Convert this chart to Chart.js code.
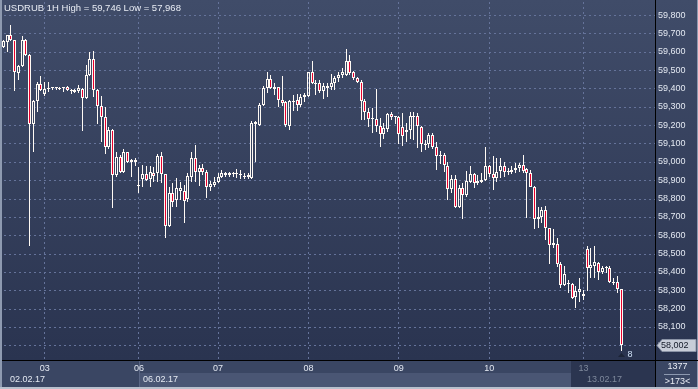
<!DOCTYPE html>
<html><head><meta charset="utf-8">
<script src="https://cdn.jsdelivr.net/npm/chart.js@4.4.1/dist/chart.umd.min.js"></script>
<style>html,body{margin:0;padding:0;background:#2e3a55;overflow:hidden}canvas{display:block}</style>
</head><body>
<canvas id="c" width="698" height="389"></canvas>
<script>
const symbol = 'USDRUB';
const timeframe = '1H';

const openP = [
59624,59655,59691,59664,59482,59522,59664,59582,59206,59331,
59424,59370,59399,59400,59401,59398,59401,59409,59391,59380,
59386,59397,59346,59473,59559,59391,59304,59243,59079,59173,
58928,59028,58943,59052,58997,59010,58874,58906,58932,58906,
58937,58937,59032,58933,58652,58832,58792,58842,58841,58796,
58915,59019,58943,58965,58943,58864,58874,58888,58915,58928,
58928,58933,58932,58928,58919,58919,58910,59217,59201,59310,
59401,59451,59399,59406,59337,59326,59198,59324,59335,59308,
59352,59361,59488,59424,59428,59388,59413,59406,59431,59455,
59473,59473,59549,59488,59455,59437,59333,59271,59232,59232,
59195,59150,59177,59261,59246,59246,59188,59161,59173,59243,
59250,59188,59097,59095,59146,59082,59033,59037,58979,58850,
58905,58752,58856,58819,58891,58932,58886,58901,58901,58977,
58932,58910,58951,58977,58950,58946,58954,58965,58983,58959,
58941,58861,58687,58697,58737,58638,58546,58550,58443,58328,
58334,58334,58261,58292,58280,58523,58420,58434,58450,58401,
58423,58423,58347,58343,58305];
const highP = [
59664,59691,59746,59664,59528,59686,59669,59588,59337,59437,
59468,59437,59437,59405,59405,59408,59409,59413,59397,59397,
59418,59402,59528,59597,59606,59397,59360,59300,59191,59179,
59055,59037,59068,59053,59015,59019,58970,58983,58977,58979,
58970,59041,59053,58933,58864,58883,58913,58891,58874,58937,
59055,59092,58983,58987,58955,58897,58919,58937,58955,58946,
58946,58946,58961,58955,58937,58937,59222,59222,59320,59413,
59488,59473,59431,59409,59469,59331,59337,59364,59370,59370,
59373,59491,59549,59446,59446,59428,59428,59477,59468,59491,
59513,59615,59582,59495,59464,59446,59342,59293,59292,59395,
59237,59210,59268,59273,59250,59250,59264,59210,59270,59273,
59264,59195,59119,59155,59159,59109,59059,59046,59000,58928,
58928,58874,58883,58951,58979,58941,58928,58937,59079,58983,
59032,59022,59019,59000,58965,58977,58995,58992,59037,58965,
58955,58868,58752,58752,58759,58638,58632,58583,58455,58432,
58356,58338,58323,58365,58301,58541,58529,58541,58455,58432,
58432,58432,58365,58378,58305];
const lowP = [
59620,59600,59658,59388,59446,59517,59577,58543,59052,59273,
59386,59359,59382,59394,59394,59391,59382,59386,59370,59377,
59377,59168,59342,59468,59355,59206,59106,59041,59070,58747,
58919,58939,58939,58992,58919,58977,58828,58861,58897,58861,
58891,58891,58883,58583,58646,58755,58752,58792,58668,58782,
58891,58891,58868,58928,58804,58841,58864,58886,58910,58919,
58915,58919,58910,58906,58906,58905,58906,59000,59195,59304,
59375,59397,59364,59300,59306,59191,59171,59278,59278,59300,
59327,59352,59425,59364,59373,59341,59355,59391,59391,59437,
59455,59468,59473,59446,59428,59228,59228,59190,59159,59164,
59082,59124,59164,59228,59206,59095,59086,59109,59124,59119,
59074,59052,59064,59074,59070,58955,58987,58946,58792,58828,
58748,58747,58687,58810,58883,58859,58874,58883,58897,58919,
58846,58891,58913,58919,58928,58933,58941,58943,58941,58695,
58861,58632,58638,58668,58574,58441,58528,58428,58310,58323,
58283,58252,58202,58237,58247,58297,58365,58365,58356,58388,
58392,58341,58328,58283,57968];
const closeP = [
59660,59690,59664,59488,59522,59664,59582,59206,59331,59424,
59391,59399,59401,59401,59400,59400,59403,59391,59384,59391,
59404,59346,59473,59559,59391,59304,59243,59079,59173,58928,
59028,58946,59052,59000,59010,58997,58868,58932,58901,58943,
58923,59032,58933,58652,58832,58779,58859,58856,58788,58923,
59019,58943,58965,58943,58864,58878,58891,58919,58937,58937,
58941,58934,58932,58929,58924,58928,59213,59206,59310,59401,
59451,59401,59406,59337,59322,59201,59329,59333,59308,59353,
59366,59488,59428,59431,59388,59413,59404,59431,59458,59473,
59491,59549,59486,59455,59437,59333,59271,59232,59231,59195,
59150,59183,59261,59246,59245,59150,59142,59173,59250,59250,
59195,59095,59090,59146,59082,59033,59032,58983,58850,58905,
58752,58856,58819,58895,58932,58886,58897,58891,58977,58932,
58910,58943,58977,58946,58943,58955,58965,58983,58951,58937,
58864,58687,58697,58737,58638,58546,58556,58443,58328,58388,
58341,58256,58296,58307,58270,58420,58438,58454,58401,58423,
58422,58343,58339,58305,58002];

const dayTickIdx = [11, 36, 57, 81, 105, 129, 154];
const dayLabels = ['03', '06', '07', '08', '09', '10', '13'];
const weekStartIdx = [0, 36, 154];
const weekLabels = ['02.02.17', '06.02.17', '13.02.17'];
const totalBars = 1377;
const visibleBars = 173;
const shiftBars = 8;
const yMin = 57920, yMax = 59882, yStep = 100;

const FONT = '"Liberation Sans", Arial, sans-serif';
const RED = '#e8002e', WHITE = '#fffaf4', GRID = '#65739a';
const fmt = v => Math.round(v).toLocaleString('en-US');

const idx = openP.map((_, i) => i);
const bodyData = idx.map(i => ({x: i, y: [openP[i], closeP[i]]}));
const upWick = idx.map(i => ({x: i, y: [Math.max(openP[i], closeP[i]), highP[i]]}));
const loWick = idx.map(i => ({x: i, y: [lowP[i], Math.min(openP[i], closeP[i])]}));

const snap = {
  id: 'snap',
  afterDatasetsUpdate(chart) {
    chart.data.datasets.forEach((ds, di) => {
      chart.getDatasetMeta(di).data.forEach(el => {
        el.x = Math.floor(el.x) + 0.5;
        const y = Math.round(el.y), b = Math.round(el.base);
        el.y = y; el.base = b; el.height = b - y;
      });
    });
  }
};

const deco = {
  id: 'deco',
  beforeDraw(chart) {
    const {ctx, chartArea: a, scales: {x}} = chart;
    const W = chart.width, H = chart.height;
    ctx.save();
    ctx.fillStyle = '#8e9ab0'; ctx.fillRect(0, 0, W, H);
    const g = ctx.createLinearGradient(0, 0, 0, a.bottom);
    g.addColorStop(0, '#404c69'); g.addColorStop(1, '#2a3450');
    ctx.fillStyle = g; ctx.fillRect(a.left, 0, W - a.left - 1, a.bottom);
    ctx.fillStyle = '#3a4663'; ctx.fillRect(a.left, a.bottom, W - a.left - 1, H - 2 - a.bottom);
    const tabX = Math.round(x.getPixelForValue(weekStartIdx[1]));
    const darkX = Math.round(x.getPixelForValue(weekStartIdx[2])) - 12;
    ctx.fillStyle = '#4a5674'; ctx.fillRect(tabX, a.bottom + 13, darkX - tabX, H - 2 - a.bottom - 13);
    ctx.fillStyle = '#2b3550'; ctx.fillRect(darkX, a.bottom + 1, a.right - darkX, H - 3 - a.bottom);
    ctx.fillStyle = '#5a6684'; ctx.fillRect(tabX, a.bottom + 1, 1, H - 3 - a.bottom);
    ctx.fillStyle = '#b8c0cd'; ctx.fillRect(0, H - 2, W, 2);
    ctx.restore();
  },
  beforeDatasetsDraw(chart) {
    const {ctx, chartArea: a, scales: {x, y}} = chart;
    ctx.save();
    ctx.strokeStyle = GRID; ctx.lineWidth = 1; ctx.setLineDash([2, 3]);
    ctx.beginPath();
    y.ticks.forEach(t => {
      const py = Math.round(y.getPixelForValue(t.value)) + 0.5;
      ctx.moveTo(a.left + 2, py); ctx.lineTo(a.right, py);
    });
    x.ticks.forEach(t => {
      const px = Math.floor(x.getPixelForValue(t.value)) + 0.5;
      ctx.moveTo(px, 2); ctx.lineTo(px, a.bottom);
    });
    ctx.stroke();
    ctx.restore();
  },
  afterDraw(chart) {
    const {ctx, chartArea: a, scales: {x, y}} = chart;
    const W = chart.width, H = chart.height;
    ctx.save();
    ctx.fillStyle = '#000';
    ctx.fillRect(a.left, a.bottom, W - a.left, 1);
    ctx.fillRect(a.right, 0, 1, H - 2);
    // title
    ctx.font = '9.5px ' + FONT; ctx.fillStyle = '#e8ecf4';
    ctx.textAlign = 'left'; ctx.textBaseline = 'alphabetic';
    ctx.fillText(symbol + ' ' + timeframe + ' High = ' + fmt(Math.max(...highP)) + ' Low = ' + fmt(Math.min(...lowP)), 4, 11);
    // week labels
    ctx.font = '9px ' + FONT; ctx.textBaseline = 'middle';
    weekLabels.forEach((t, k) => {
      const px = k === 0 ? a.left + 8 : Math.round(x.getPixelForValue(weekStartIdx[k])) + 4;
      ctx.fillStyle = k === weekLabels.length - 1 ? '#7e889b' : '#e4e9f2';
      ctx.fillText(t, px, a.bottom + 20);
    });
    // bottom-right box
    const cx = (a.right + W) / 2 + 1;
    ctx.textAlign = 'center'; ctx.fillStyle = '#e8ecf4';
    ctx.fillText(String(totalBars), cx, a.bottom + 7);
    ctx.fillStyle = '#8d99b0'; ctx.fillRect(a.right + 9, a.bottom + 14, W - a.right - 17, 1);
    ctx.fillStyle = '#e8ecf4';
    ctx.fillText('>' + visibleBars + '<', cx, a.bottom + 22);
    // current price label
    const last = closeP[closeP.length - 1];
    const py = Math.round(y.getPixelForValue(last)) + 0.5;
    ctx.beginPath();
    ctx.moveTo(a.right + 2, py);
    ctx.lineTo(a.right + 7, py - 6);
    ctx.lineTo(W - 2, py - 6);
    ctx.lineTo(W - 2, py + 6);
    ctx.lineTo(a.right + 7, py + 6);
    ctx.closePath();
    ctx.fillStyle = '#c8cdd8'; ctx.fill();
    ctx.strokeStyle = '#8a93a6'; ctx.lineWidth = 1; ctx.stroke();
    ctx.fillStyle = '#141a28'; ctx.textAlign = 'left'; ctx.font = '9px ' + FONT;
    ctx.fillText(fmt(last), a.right + 6, py);
    // shift marker
    const lx = Math.floor(x.getPixelForValue(closeP.length - 1)) + 0.5;
    ctx.beginPath();
    ctx.moveTo(lx - 3.5, a.bottom - 3); ctx.lineTo(lx, a.bottom - 7); ctx.lineTo(lx + 3.5, a.bottom - 3); ctx.closePath();
    ctx.fillStyle = '#1c2436'; ctx.fill();
    ctx.fillStyle = '#cfe0f5'; ctx.font = '9px ' + FONT;
    ctx.fillText(String(shiftBars), lx + 6, a.bottom - 5);
    ctx.restore();
  }
};

new Chart(document.getElementById('c'), {
  type: 'bar',
  data: {
    datasets: [
      { data: bodyData, barThickness: 3, borderWidth: 1, borderColor: WHITE, borderSkipped: false,
        inflateAmount: 0, minBarLength: 1, grouped: false,
        backgroundColor: idx.map(i => closeP[i] < openP[i] ? RED : 'rgba(0,0,0,0)') },
      { data: upWick, barThickness: 1, borderWidth: 0, inflateAmount: 0, grouped: false, backgroundColor: WHITE },
      { data: loWick, barThickness: 1, borderWidth: 0, inflateAmount: 0, grouped: false, backgroundColor: WHITE }
    ]
  },
  options: {
    responsive: false, animation: false, devicePixelRatio: 1,
    layout: { padding: { left: 2, right: 0, top: 0, bottom: 0 } },
    plugins: { legend: { display: false }, tooltip: { enabled: false } },
    scales: {
      x: {
        type: 'linear', position: 'bottom', min: -0.35, max: visibleBars, offset: false,
        afterFit(s) { s.height = 29; s.paddingLeft = 0; s.paddingRight = 0; },
        afterBuildTicks(s) { s.ticks = dayTickIdx.map(v => ({value: v})); },
        ticks: { autoSkip: false, maxRotation: 0, padding: 3, font: { family: FONT, size: 9 },
          color: c => (c.tick && c.tick.value === dayTickIdx[dayTickIdx.length - 1]) ? '#7e889b' : '#e4e9f2',
          callback: v => dayLabels[dayTickIdx.indexOf(v)] },
        grid: { display: false, drawTicks: false },
        border: { display: false }
      },
      y: {
        position: 'right', min: yMin, max: yMax,
        afterFit(s) { s.width = 43; s.paddingTop = 0; s.paddingBottom = 0; },
        ticks: { stepSize: yStep, includeBounds: false, padding: 3, color: '#e4e9f2',
          font: { family: FONT, size: 9 }, callback: v => fmt(v) },
        grid: { display: false, drawTicks: false },
        border: { display: false }
      }
    }
  },
  plugins: [snap, deco]
});
</script>
</body></html>
